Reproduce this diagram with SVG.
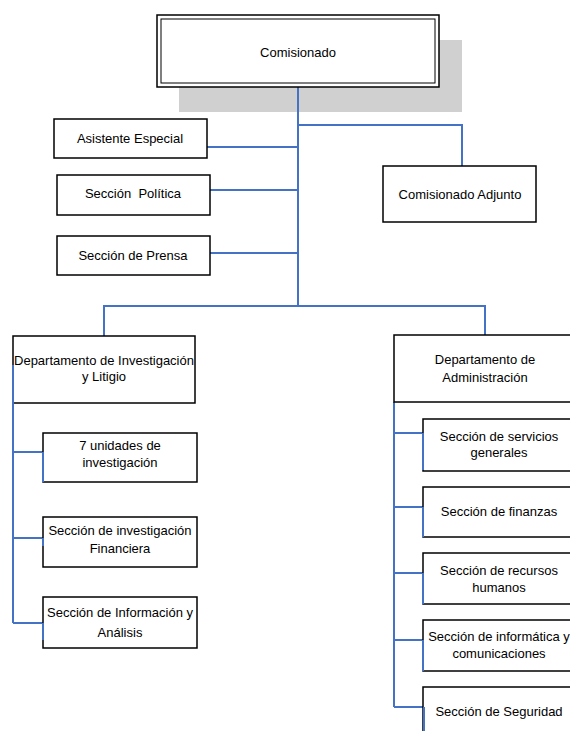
<svg xmlns="http://www.w3.org/2000/svg" width="570" height="731" viewBox="0 0 570 731">
<style>
.box{fill:#fff;stroke:#000;stroke-width:1.5}
.t{font-family:"Liberation Sans",Arial,sans-serif;font-size:13px;fill:#000;text-anchor:middle}
.c{fill:none;stroke:#4472C4;stroke-width:2}
</style>
<rect width="570" height="731" fill="#fff"/>
<rect x="179" y="40" width="283" height="72" fill="#d0d0d0"/>
<g id="connectors">
<path class="c" d="M298 87V306"/>
<path class="c" d="M298 125H462V166"/>
<path class="c" d="M207 147H298M210 190H298M210 253H298"/>
<path class="c" d="M104 336V306H485V336"/>
<path class="c" d="M13 365V623"/>
<path class="c" d="M13 452H43V482M13 538H43V546M13 623H43V640"/>
<path class="c" d="M394 402V707"/>
<path class="c" d="M394 433H423V470M394 507H423V537M394 573H423V604M394 640H423V671M394 707H424V731"/>
</g>
<g id="comisionado">
<rect class="box" x="157" y="15" width="282" height="72"/>
<rect x="161" y="19" width="274" height="64" fill="none" stroke="#000" stroke-width="1"/>
<text class="t" x="298" y="57">Comisionado</text>
</g>
<g id="asistente">
<rect class="box" x="54" y="119" width="153" height="39"/>
<text class="t" x="130" y="143">Asistente Especial</text>
</g>
<g id="politica">
<rect class="box" x="57" y="175" width="153" height="40"/>
<text class="t" x="133" y="198" xml:space="preserve">Sección  Política</text>
</g>
<g id="prensa">
<rect class="box" x="57" y="236" width="153" height="39"/>
<text class="t" x="133" y="260">Sección de Prensa</text>
</g>
<g id="adjunto">
<rect class="box" x="383" y="166" width="153" height="56"/>
<text class="t" x="460" y="199">Comisionado Adjunto</text>
</g>
<g id="dept-investigacion">
<rect class="box" x="13" y="336" width="182" height="67"/>
<text class="t" x="104" y="365">Departamento de Investigación</text>
<text class="t" x="104" y="381">y Litigio</text>
</g>
<g id="dept-administracion">
<rect class="box" x="394" y="335" width="180" height="67"/>
<text class="t" x="485" y="364">Departamento de</text>
<text class="t" x="485" y="382">Administración</text>
</g>
<g id="unidades">
<rect class="box" x="43" y="433" width="154" height="49"/>
<text class="t" x="120" y="450">7 unidades de</text>
<text class="t" x="120" y="467">investigación</text>
</g>
<g id="inv-financiera">
<rect class="box" x="43" y="517" width="154" height="50"/>
<text class="t" x="120" y="535">Sección de investigación</text>
<text class="t" x="120" y="553">Financiera</text>
</g>
<g id="informacion">
<rect class="box" x="43" y="597" width="154" height="51"/>
<text class="t" x="120" y="617">Sección de Información y</text>
<text class="t" x="120" y="637">Análisis</text>
</g>
<g id="servicios">
<rect class="box" x="423" y="419" width="152" height="52"/>
<text class="t" x="499" y="441">Sección de servicios</text>
<text class="t" x="499" y="457">generales</text>
</g>
<g id="finanzas">
<rect class="box" x="423" y="487" width="152" height="50"/>
<text class="t" x="499" y="516">Sección de finanzas</text>
</g>
<g id="recursos">
<rect class="box" x="423" y="553" width="152" height="51"/>
<text class="t" x="499" y="575">Sección de recursos</text>
<text class="t" x="499" y="592">humanos</text>
</g>
<g id="informatica">
<rect class="box" x="423" y="620" width="152" height="51"/>
<text class="t" x="499" y="641">Sección de informática y</text>
<text class="t" x="499" y="658">comunicaciones</text>
</g>
<g id="seguridad">
<rect class="box" x="423" y="687" width="152" height="50"/>
<text class="t" x="499" y="716">Sección de Seguridad</text>
</g>
<path class="c" d="M13 365V404M43 452V482M43 538V546M43 623V640M423 433V470M423 507V537M423 573V604M423 640V671M424 707V731"/>
</svg>
